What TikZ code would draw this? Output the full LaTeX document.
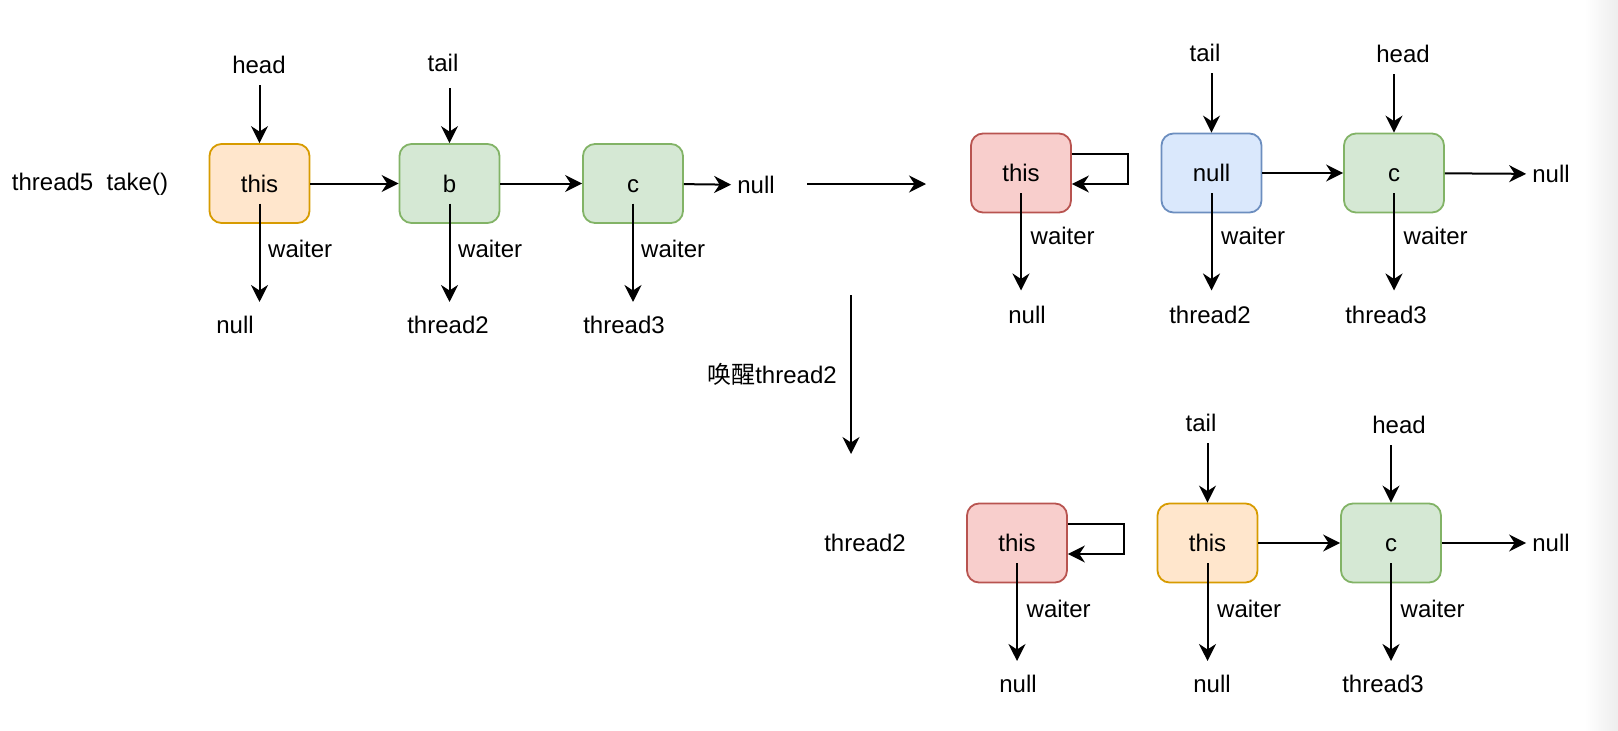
\documentclass[tikz,border=0pt]{standalone}
\usepackage{fontspec}
\setmainfont{Liberation Sans}
\newfontfamily\cjk{Noto Sans CJK SC}
\usetikzlibrary{arrows.meta}
\definecolor{orfill}{HTML}{FFE6CC}\definecolor{ordraw}{HTML}{D79B00}
\definecolor{grfill}{HTML}{D5E8D4}\definecolor{grdraw}{HTML}{82B366}
\definecolor{rdfill}{HTML}{F8CECC}\definecolor{rddraw}{HTML}{B85450}
\definecolor{blfill}{HTML}{DAE8FC}\definecolor{bldraw}{HTML}{6C8EBF}
\def\fs{\fontsize{24}{29}\selectfont}
\tikzset{
  txt/.style={inner sep=6pt, font=\fs},
  box/.style={draw, rounded corners=12pt, line width=1.8pt, minimum width=100pt, minimum height=79pt, font=\fs, text height=17pt, text depth=0pt},
  orbox/.style={box, fill=orfill, draw=ordraw},
  grbox/.style={box, fill=grfill, draw=grdraw},
  rdbox/.style={box, fill=rdfill, draw=rddraw},
  blbox/.style={box, fill=blfill, draw=bldraw},
  ptr/.style={line width=2pt, -{Stealth[length=17pt, width=17pt, inset=5.5pt]}},
  ptrv/.style={ptr, shorten <=5pt},
  wt/.style={ptr, shorten <=20pt, shorten >=8pt}
}

\begin{document}
\begin{tikzpicture}[x=1pt, y=-1pt]
			%%%%% START %%%%%
			\useasboundingbox (0,0) rectangle (1618,731);
			\shade[left color=white, right color=black!7] (1585,0) rectangle (1618,731);
			
			%%%%% thread5 take() %%%%%
			\node[txt] (t5) at (90,184) {thread5~~take()};
			\node[orbox] (this1) at (259.5,183.5) {this};
			\node[grbox] (b1) at (449.5,183.5) {b};
			\node[grbox] (c1) at (633,183.5) {c};
			\node[txt] (n1) at (756,185) {null};
			\node[txt] (hd1) at (259,65) {head};
			\node[txt] (tl1) at (443,63) {tail};
			\node[txt, anchor=west] (w1a) at (262,249) {waiter};
			\node[txt, anchor=west] (w1b) at (452,249) {waiter};
			\node[txt, anchor=west] (w1c) at (635,249) {waiter};
			\node[txt] (nl1) at (235,325) {null};
			\node[txt] (th2a) at (448,325) {thread2};
			\node[txt] (th3a) at (624,325) {thread3};
			
			\draw[ptrv] (this1.north |- hd1.south) -- (this1);
			\draw[ptrv, shorten <=10pt] (b1.north |- tl1.south) -- (b1);
			\draw[ptr] (this1) -- (b1);
			\draw[ptr] (b1) -- (c1);
			\draw[ptr] (c1) -- (n1);
			\draw[wt] (this1.center) -- (this1.center |- nl1.north);
			\draw[wt] (b1.center) -- (b1.center |- th2a.north);
			\draw[wt] (c1.center) -- (c1.center |- th3a.north);
			
			%%%%% steps %%%%%
			\coordinate (mvA) at (807,184);
			\coordinate (mvB) at (926,184);
			\draw[ptr] (mvA) -- (mvB);
			
			\coordinate (wkA) at (851,295);
			\coordinate (wkB) at (851,454);
			\draw[ptr] (wkA) -- (wkB);
			\node[txt] (wk) at (772,374) {{\cjk 唤醒}thread2};
			
			%%%%% after take() %%%%%
			\node[rdbox] (r1) at (1021,173) {this};
			\node[blbox] (nb) at (1211.5,173) {null};
			\node[grbox] (c2) at (1394,173) {c};
			\node[txt] (n2) at (1551,174) {null};
			\node[txt] (tl2) at (1205,53) {tail};
			\node[txt] (hd2) at (1403,54) {head};
			\node[txt, anchor=west] (w2a) at (1024.5,236) {waiter};
			\node[txt, anchor=west] (w2b) at (1215,236) {waiter};
			\node[txt, anchor=west] (w2c) at (1397.5,236) {waiter};
			\node[txt] (nl2) at (1027,315) {null};
			\node[txt] (th2b) at (1210,315) {thread2};
			\node[txt] (th3b) at (1386,315) {thread3};
			
			\draw[ptr] ([yshift=19pt]r1.east) -- ++(56,0) -- ++(0,30) -- ([yshift=-11pt]r1.east);
			\draw[ptrv] (nb.north |- tl2.south) -- (nb);
			\draw[ptrv] (c2.north |- hd2.south) -- (c2);
			\draw[ptr] (nb) -- (c2);
			\draw[ptr] (c2) -- (n2);
			\draw[wt, shorten >=9.5pt] (r1.center) -- (r1.center |- nl2.north);
			\draw[wt, shorten >=9.5pt] (nb.center) -- (nb.center |- th2b.north);
			\draw[wt, shorten >=9.5pt] (c2.center) -- (c2.center |- th3b.north);
			
			%%%%% thread2 %%%%%
			\node[txt] (t2) at (865,543) {thread2};
			\node[rdbox] (r2) at (1017,543) {this};
			\node[orbox] (this3) at (1207.5,543) {this};
			\node[grbox] (c3) at (1391,543) {c};
			\node[txt] (n3) at (1551,543) {null};
			\node[txt] (tl3) at (1201,423) {tail};
			\node[txt] (hd3) at (1399,425) {head};
			\node[txt, anchor=west] (w3a) at (1020.5,609) {waiter};
			\node[txt, anchor=west] (w3b) at (1211,609) {waiter};
			\node[txt, anchor=west] (w3c) at (1394.5,609) {waiter};
			\node[txt] (nl3a) at (1018,684) {null};
			\node[txt] (nl3b) at (1212,684) {null};
			\node[txt] (th3c) at (1383,684) {thread3};
			
			\draw[ptr] ([yshift=19pt]r2.east) -- ++(56,0) -- ++(0,30) -- ([yshift=-11pt]r2.east);
			\draw[ptrv] (this3.north |- tl3.south) -- (this3);
			\draw[ptrv] (c3.north |- hd3.south) -- (c3);
			\draw[ptr] (this3) -- (c3);
			\draw[ptr] (c3) -- (n3);
			\draw[wt] (r2.center) -- (r2.center |- nl3a.north);
			\draw[wt] (this3.center) -- (this3.center |- nl3b.north);
			\draw[wt] (c3.center) -- (c3.center |- th3c.north);
			
			%%%%% END %%%%%
\end{tikzpicture}
\end{document}
